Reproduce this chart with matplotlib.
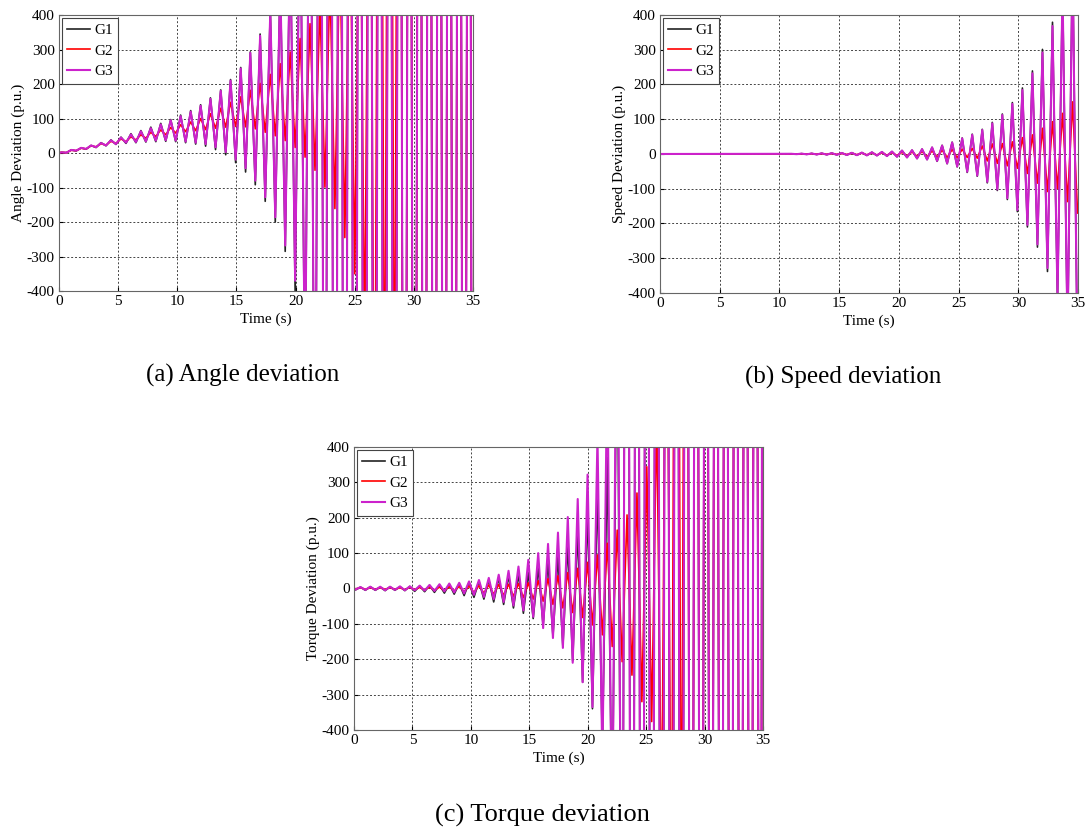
import matplotlib
matplotlib.use("Agg")
import matplotlib.pyplot as plt

plt.rcParams["font.family"] = ["Liberation Serif", "DejaVu Serif"]
plt.rcParams["axes.unicode_minus"] = False

series_names = ["G1", "G2", "G3"]
series_colors = ["#222222", "#ff0000", "#cc22cc"]
series_widths = [1.2, 1.2, 1.5]
y_ticks = [-400, -300, -200, -100, 0, 100, 200, 300, 400]
x_ticks = [0, 5, 10, 15, 20, 25, 30, 35]

# (a) Angle deviation - times of the swing extrema (peaks / troughs)
angle_t = [0.00, 0.20, 0.62, 1.03, 1.45, 1.87, 2.29, 2.71, 3.13, 3.55,
           3.97, 4.39, 4.81, 5.24, 5.66, 6.08, 6.50, 6.92, 7.34, 7.76,
           8.18, 8.60, 9.02, 9.44, 9.86, 10.28, 10.70, 11.13, 11.55, 11.97,
           12.39, 12.80, 13.23, 13.67, 14.09, 14.50, 14.93, 15.36, 15.77, 16.17,
           16.59, 17.00, 17.43, 17.86, 18.28, 18.70, 19.12, 19.54, 19.96, 20.38,
           20.80, 21.22, 21.64, 22.06, 22.48, 22.90, 23.32, 23.74, 24.16, 24.58,
           25.00, 25.42, 25.84, 26.26, 26.68, 27.10, 27.52, 27.94, 28.36, 28.78,
           29.20, 29.62, 30.04, 30.46, 30.88, 31.30, 31.72, 32.14, 32.56, 32.98,
           33.40, 33.82, 34.24, 34.66, 35.00]
angle_g1 = [0, 2, 1, 9, 6, 15, 11, 22, 16, 30,
            21, 38, 25, 46, 28, 56, 30, 65, 32, 75,
            33, 86, 34, 97, 33, 110, 30, 123, 26, 140,
            20, 160, 10, 183, -5, 213, -28, 248, -55, 293,
            -92, 345, -140, 415, -200, 510, -285, 640, -400, 820,
            -750, 1300, -1300, 2100, -2100, 3000, -3000, 3000, -3000, 3000,
            -3000, 3000, -3000, 3000, -3000, 3000, -3000, 3000, -3000, 3000,
            -3000, 3000, -3000, 3000, -3000, 3000, -3000, 3000, -3000, 3000,
            -3000, 3000, -3000, 3000, -3000]
angle_g2 = [0, 2, 1, 8, 7, 14, 12, 21, 18, 27,
            23, 34, 28, 41, 33, 47, 38, 53, 43, 60,
            48, 67, 53, 74, 58, 82, 62, 90, 65, 100,
            68, 114, 72, 130, 75, 147, 77, 163, 76, 182,
            70, 202, 60, 228, 50, 259, 36, 293, 16, 332,
            -12, 375, -50, 430, -99, 500, -161, 600, -245, 750,
            -350, 1000, -600, 1500, -1200, 2600, -1000, 2600, -1000, 3000,
            -3000, 3000, -3000, 3000, -3000, 3000, -3000, 3000, -3000, 3000,
            -3000, 3000, -3000, 3000, -3000]
angle_g3 = [0, 2, 1, 9, 7, 15, 12, 22, 17, 29,
            22, 37, 26, 45, 30, 54, 32, 63, 34, 72,
            36, 83, 37, 95, 36, 107, 33, 120, 30, 137,
            26, 157, 17, 180, 3, 210, -19, 245, -44, 290,
            -80, 340, -128, 410, -186, 500, -268, 620, -370, 800,
            -700, 1200, -1200, 2000, -2000, 3000, -3000, 3000, -3000, 3000,
            -3000, 3000, -3000, 3000, -3000, 3000, -3000, 3000, -3000, 3000,
            -3000, 3000, -3000, 3000, -3000, 3000, -3000, 3000, -3000, 3000,
            -3000, 3000, -3000, 3000, -3000]

# (b) Speed deviation
speed_t = [0.00, 11.02, 11.44, 11.86, 12.28, 12.70, 13.12, 13.54, 13.96, 14.38,
           14.80, 15.22, 15.64, 16.06, 16.48, 16.90, 17.32, 17.74, 18.16, 18.58,
           19.00, 19.42, 19.84, 20.26, 20.68, 21.10, 21.52, 21.94, 22.36, 22.78,
           23.20, 23.62, 24.04, 24.46, 24.88, 25.30, 25.72, 26.14, 26.56, 26.98,
           27.40, 27.82, 28.24, 28.66, 29.08, 29.50, 29.92, 30.34, 30.76, 31.18,
           31.60, 32.02, 32.44, 32.86, 33.28, 33.70, 34.12, 34.54, 34.96]
speed_g1 = [0, 0.5, -0.5, 1, -1, 1.5, -1.5, 2, -2, 2.5,
            -2.5, 3, -3, 3.5, -3.5, 4, -4, 5, -4.5, 6,
            -6, 7, -8, 10, -10, 11, -13, 14, -16, 19,
            -21, 25, -28, 34, -37, 46, -53, 57, -64, 71,
            -83, 91, -105, 115, -131, 148, -166, 190, -210, 239,
            -268, 301, -338, 379, -422, 484, -536, 577, -618]
speed_g2 = [0, 0.3, -0.3, 0.5, -0.5, 0.8, -0.8, 1, -1, 1.2,
            -1.2, 1.5, -1.5, 2, -2, 2.5, -2.5, 3, -3, 3.5,
            -3.5, 4, -4.5, 5, -5.5, 6, -6.5, 7, -8, 9,
            -9, 11, -10, 13, -11, 14, -10, 16, -12, 23,
            -20, 29, -27, 30, -34, 35, -41, 47, -56, 55,
            -84, 74, -108, 93, -100, 117, -137, 150, -170]
speed_g3 = [0, 0.5, -0.5, 1, -1, 1.5, -1.5, 2, -2, 2.5,
            -2.5, 3, -3, 3.5, -3.5, 4, -4, 5, -4.5, 6,
            -6, 7, -8, 10, -10, 11, -13, 14, -16, 19,
            -20, 24, -27, 33, -36, 45, -51, 55, -62, 69,
            -80, 88, -102, 112, -127, 144, -161, 184, -204, 232,
            -260, 292, -328, 368, -410, 470, -520, 560, -600]

# (c) Torque deviation
torque_t = [0.00, 0.13, 0.55, 0.97, 1.39, 1.82, 2.24, 2.66, 3.08, 3.50,
            3.93, 4.35, 4.77, 5.19, 5.62, 6.04, 6.46, 6.88, 7.31, 7.73,
            8.15, 8.57, 9.00, 9.42, 9.84, 10.26, 10.69, 11.11, 11.53, 11.95,
            12.38, 12.80, 13.22, 13.64, 14.07, 14.49, 14.91, 15.33, 15.76, 16.18,
            16.60, 17.02, 17.45, 17.87, 18.29, 18.71, 19.14, 19.56, 19.98, 20.40,
            20.83, 21.25, 21.67, 22.09, 22.52, 22.94, 23.36, 23.78, 24.21, 24.63,
            25.05, 25.47, 25.90, 26.32, 26.74, 27.16, 27.59, 28.01, 28.43, 28.85,
            29.28, 29.70, 30.12, 30.54, 30.97, 31.39, 31.81, 32.23, 32.66, 33.08,
            33.50, 33.92, 34.35, 34.77, 35.00]
torque_g1 = [0, -4, 4, -5, 5, -5, 4, -6, 5, -5,
             5, -6, 6, -8, 7, -9, 9, -11, 10, -13,
             12, -16, 14, -20, 17, -25, 20, -30, 25, -38,
             30, -45, 36, -55, 40, -70, 45, -85, 60, -105,
             75, -135, 90, -165, 125, -205, 165, -265, 220, -340,
             285, -450, 370, -700, 900, -1500, 3000, -3000, 3000, -3000,
             3000, -3000, 3000, -3000, 3000, -3000, 3000, -3000, 3000, -3000,
             3000, -3000, 3000, -3000, 3000, -3000, 3000, -3000, 3000, -3000,
             3000, -3000, 3000, -3000, 3000]
torque_g2 = [0, -1, 2, -2, 2, -2, 2, -2, 2, -2,
             2, -3, 3, -3, 3, -4, 4, -5, 4, -6,
             5, -7, 6, -9, 7, -11, 8, -13, 10, -16,
             11, -19, 12, -22, 14, -26, 16, -30, 22, -36,
             28, -45, 36, -55, 45, -68, 57, -82, 74, -103,
             95, -131, 128, -164, 165, -207, 208, -245, 270, -320,
             344, -376, 500, -700, 1200, -1000, 2600, -1000, 2600, -3000,
             3000, -3000, 3000, -3000, 3000, -3000, 3000, -3000, 3000, -3000,
             3000, -3000, 3000, -3000, 3000]
torque_g3 = [0, -3, 4, -4, 5, -4, 5, -5, 5, -4,
             6, -5, 6, -5, 8, -6, 10, -7, 12, -8,
             14, -11, 16, -14, 20, -18, 24, -24, 30, -30,
             39, -38, 50, -48, 62, -62, 81, -80, 100, -112,
             126, -140, 158, -168, 202, -210, 253, -265, 322, -335,
             430, -500, 650, -800, 1200, -1500, 3000, -3000, 3000, -3000,
             3000, -3000, 3000, -3000, 3000, -3000, 3000, -3000, 3000, -3000,
             3000, -3000, 3000, -3000, 3000, -3000, 3000, -3000, 3000, -3000,
             3000, -3000, 3000, -3000, 3000]

panels = [
    ([0.0544, 0.6481, 0.3816, 0.3337], angle_t, [angle_g1, angle_g2, angle_g3],
     "Angle Deviation (p.u.)", "(a) Angle deviation", (0.224, 0.546), 18),
    ([0.6083, 0.6457, 0.3853, 0.3362], speed_t, [speed_g1, speed_g2, speed_g3],
     "Speed Deviation (p.u.)", "(b) Speed deviation", (0.777, 0.543), 18),
    ([0.3263, 0.1173, 0.3770, 0.3422], torque_t, [torque_g1, torque_g2, torque_g3],
     "Torque Deviation (p.u.)", "(c) Torque deviation", (0.500, 0.0145), 19),
]

fig = plt.figure(figsize=(10.85, 8.27), dpi=100)

for rect, t, ys, ylab, caption, cpos, csize in panels:
    ax = fig.add_axes(rect)
    for y, name, col, lw in zip(ys, series_names, series_colors, series_widths):
        ax.plot(t, y, color=col, lw=lw, label=name)
    ax.set_xlim(0, 35)
    ax.set_ylim(-400, 400)
    ax.set_xticks(x_ticks)
    ax.set_yticks(y_ticks)
    ax.tick_params(direction="in", length=3, labelsize=11, pad=3)
    ax.grid(True, color="#444444", linestyle=(0, (2, 2)), linewidth=0.7)
    for sp in ax.spines.values():
        sp.set_color("#666666")
    ax.set_xlabel("Time (s)", fontsize=11, labelpad=3)
    ax.set_ylabel(ylab, fontsize=11, labelpad=1)
    leg = ax.legend(loc="upper left", fontsize=11, fancybox=False, framealpha=1,
                    edgecolor="#444444", handlelength=1.5, borderpad=0.35,
                    labelspacing=0.45, borderaxespad=0.2, handletextpad=0.25)
    leg.get_frame().set_linewidth(0.8)
    fig.text(cpos[0], cpos[1], caption, ha="center", va="center", fontsize=csize)

fig.savefig("out.png", dpi=100)
